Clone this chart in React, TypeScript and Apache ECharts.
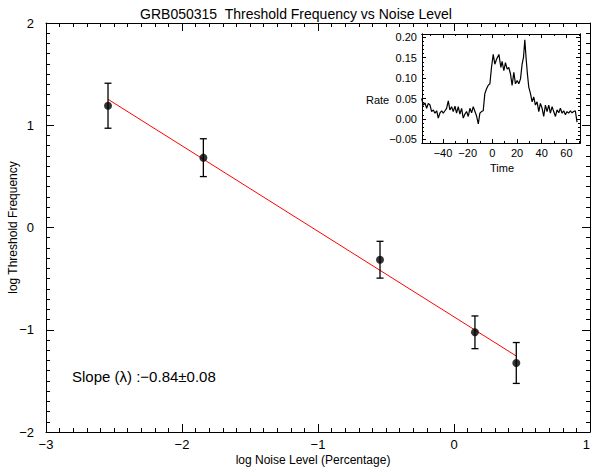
import React, { useEffect, useRef } from "react";
import * as echarts from "echarts";

// Main panel data
const noiseLevel = [-2.544, -1.843, -0.544, 0.154, 0.458];
const thresholdFreq = [1.191, 0.683, -0.315, -1.025, -1.325];
const freqErr = [0.22, 0.185, 0.18, 0.16, 0.2];
const fitX = [-2.544, 0.458];
const fitY = [1.254, -1.257];
const slopeText = "Slope (\u03bb) :\u22120.84\u00b10.08";

// Inset light curve
const lcTime = [
  -57.3, -55.9, -54.6, -53.2, -51.9, -50.5, -49.2, -47.8, -46.5, -45.1, -43.8, -42.4, -41.1, -39.8,
  -38.4, -37.1, -35.7, -34.4, -33.0, -31.7, -30.3, -29.0, -27.6, -26.3, -24.9, -23.6, -22.2, -20.9,
  -19.5, -18.2, -16.8, -15.5, -14.1, -12.8, -11.4, -10.1, -8.8, -7.4, -6.1, -4.7, -3.4, -2.0, -0.7,
  0.7, 2.0, 3.4, 5.3, 6.9, 7.9, 9.3, 10.6, 12.0, 13.3, 14.7, 16.0, 17.4, 18.7, 20.1, 21.4, 22.8,
  24.1, 25.2, 26.3, 27.3, 28.4, 29.5, 30.9, 32.2, 33.5, 34.9, 36.2, 37.6, 38.9, 40.3, 41.6, 43.0,
  44.3, 45.7, 47.0, 48.4, 49.7, 51.1, 52.4, 53.8, 55.1, 56.5, 57.8, 59.2, 60.5, 61.8, 63.2, 64.5,
  65.9, 67.2, 68.6,
];
const lcRate = [
  0.05, 0.034, 0.039, 0.026, 0.038, 0.034, 0.018, 0.022, 0.014, 0.02, 0.002, 0.015, 0.02, 0.014,
  0.02, 0.026, 0.044, 0.022, 0.03, 0.018, 0.031, 0.014, 0.03, 0.012, 0.026, 0.002, 0.012, 0.018,
  0.006, 0.026, 0.015, 0.03, 0.018, 0.007, -0.012, 0.014, 0.018, 0.02, 0.062, 0.074, 0.082, 0.086,
  0.126, 0.158, 0.134, 0.146, 0.158, 0.126, 0.141, 0.118, 0.138, 0.122, 0.126, 0.11, 0.082, 0.114,
  0.086, 0.094, 0.086, 0.098, 0.134, 0.15, 0.194, 0.15, 0.11, 0.078, 0.062, 0.042, 0.054, 0.034,
  0.042, 0.018, 0.038, 0.026, 0.006, 0.034, 0.018, 0.034, 0.014, 0.03, 0.018, 0.006, 0.022, 0.015,
  0.026, 0.014, 0.02, 0.01, 0.018, 0.014, 0.02, 0.015, 0.018, 0.02, -0.008,
];

// Inset axis ticks
const insetXRange = [-57, 71];
const insetYRange = [-0.059, 0.208];
const insetXMajor = [-40, -20, 0, 20, 40, 60];
const insetXMinor = [-50, -30, -10, 10, 30, 50, 70];
const insetYMajor = [-0.05, 0, 0.05, 0.1, 0.15, 0.2];
const insetYMinor = [
  -0.04, -0.03, -0.02, -0.01, 0.01, 0.02, 0.03, 0.04, 0.06, 0.07, 0.08, 0.09, 0.11, 0.12, 0.13,
  0.14, 0.16, 0.17, 0.18, 0.19,
];

const FONT = "Liberation Sans";
const minus = (s: string) => s.replace("-", "\u2212");

export default function App() {
  const ref = useRef<HTMLDivElement>(null);
  useEffect(() => {
    if (!ref.current) return;
    const chart = echarts.init(ref.current, undefined, { renderer: "svg" });
    const black = "#000";
    const mainAxisCommon = {
      type: "value",
      gridIndex: 0,
      interval: 1,
      axisLine: { onZero: false, lineStyle: { color: black, width: 1 } },
      axisTick: { inside: true, length: 8, lineStyle: { color: black } },
      minorTick: { show: true, splitNumber: 10, length: 4, lineStyle: { color: black } },
      splitLine: { show: false },
      minorSplitLine: { show: false },
    };
    const insetX = (pos: string, vals: number[], len: number, labels: boolean) => ({
      type: "value",
      gridIndex: 1,
      position: pos,
      min: insetXRange[0],
      max: insetXRange[1],
      axisLine: { onZero: false, lineStyle: { color: black } },
      axisTick: { inside: true, length: len, customValues: vals, lineStyle: { color: black } },
      axisLabel: labels
        ? {
            show: true,
            customValues: insetXMajor,
            color: black,
            fontSize: 11,
            fontFamily: FONT,
            margin: 4,
            formatter: (v: number) => minus(String(v)),
          }
        : { show: false },
      splitLine: { show: false },
    });
    const insetY = (pos: string, vals: number[], len: number, labels: boolean) => ({
      type: "value",
      gridIndex: 1,
      position: pos,
      min: insetYRange[0],
      max: insetYRange[1],
      axisLine: { onZero: false, lineStyle: { color: black } },
      axisTick: { inside: true, length: len, customValues: vals, lineStyle: { color: black } },
      axisLabel: labels
        ? {
            show: true,
            customValues: insetYMajor,
            color: black,
            fontSize: 11,
            fontFamily: FONT,
            margin: 5,
            formatter: (v: number) => minus(v.toFixed(2)),
          }
        : { show: false },
      splitLine: { show: false },
    });

    chart.setOption({
      animation: false,
      backgroundColor: "#fff",
      title: {
        text: "GRB050315  Threshold Frequency vs Noise Level",
        left: "center",
        top: 2,
        textStyle: { fontSize: 14, fontWeight: "normal", fontFamily: FONT, color: black },
      },
      grid: [
        { left: 46, top: 23, right: 2, bottom: 39, outerBoundsMode: "none", containLabel: false },
        {
          left: 422,
          top: 34,
          width: 158,
          height: 109,
          show: true,
          backgroundColor: "#fff",
          borderWidth: 0,
          outerBoundsMode: "none",
          containLabel: false,
        },
      ],
      xAxis: [
        {
          ...mainAxisCommon,
          position: "bottom",
          min: -3,
          max: 1,
          name: "log Noise Level (Percentage)",
          nameLocation: "middle",
          nameGap: 22,
          nameMoveOverlap: false,
          nameTextStyle: { fontSize: 12, fontFamily: FONT, color: black, padding: [0, 10, 0, 0] },
          axisLabel: {
            color: black,
            fontSize: 13,
            fontFamily: FONT,
            margin: 6,
            alignMaxLabel: "right",
            formatter: (v: number) => minus(String(v)),
          },
        },
        { ...mainAxisCommon, position: "top", min: -3, max: 1, axisLabel: { show: false } },
        insetX("bottom", insetXMajor, 4, true),
        insetX("bottom", insetXMinor, 2, false),
        insetX("top", insetXMajor, 4, false),
        insetX("top", insetXMinor, 2, false),
      ],
      yAxis: [
        {
          ...mainAxisCommon,
          position: "left",
          min: -2,
          max: 2,
          name: "log Threshold Frequency",
          nameLocation: "middle",
          nameGap: 27,
          nameMoveOverlap: false,
          nameTextStyle: { fontSize: 12, fontFamily: FONT, color: black },
          axisLabel: {
            color: black,
            fontSize: 13,
            fontFamily: FONT,
            margin: 12,
            formatter: (v: number) => minus(String(v)),
          },
        },
        { ...mainAxisCommon, position: "right", min: -2, max: 2, axisLabel: { show: false } },
        insetY("left", insetYMajor, 4, true),
        insetY("left", insetYMinor, 2, false),
        insetY("right", insetYMajor, 4, false),
        insetY("right", insetYMinor, 2, false),
      ],
      graphic: [
        {
          type: "text",
          left: 72,
          top: 369,
          style: { text: slopeText, fontSize: 15, fontFamily: FONT, fill: black },
        },
        {
          type: "text",
          left: 366,
          top: 94,
          style: { text: "Rate", fontSize: 11, fontFamily: FONT, fill: black },
        },
        {
          type: "text",
          left: 490,
          top: 162,
          style: { text: "Time", fontSize: 11, fontFamily: FONT, fill: black },
        },
      ],
      series: [
        {
          type: "line",
          xAxisIndex: 0,
          yAxisIndex: 0,
          data: fitX.map((x, i) => [x, fitY[i]]),
          showSymbol: false,
          lineStyle: { color: "#ff0000", width: 1 },
          z: 2,
        },
        {
          type: "custom",
          xAxisIndex: 0,
          yAxisIndex: 0,
          data: noiseLevel.map((x, i) => [x, thresholdFreq[i], freqErr[i]]),
          encode: { x: 0, y: 1 },
          z: 3,
          renderItem: (_p: any, api: any) => {
            const x = api.value(0);
            const y = api.value(1);
            const e = api.value(2);
            const top = api.coord([x, y + e]);
            const bot = api.coord([x, y - e]);
            const w = 3.5;
            const st = { stroke: "#000", lineWidth: 1.3 };
            return {
              type: "group",
              children: [
                { type: "line", shape: { x1: top[0], y1: top[1], x2: bot[0], y2: bot[1] }, style: st },
                { type: "line", shape: { x1: top[0] - w, y1: top[1], x2: top[0] + w, y2: top[1] }, style: st },
                { type: "line", shape: { x1: bot[0] - w, y1: bot[1], x2: bot[0] + w, y2: bot[1] }, style: st },
              ],
            };
          },
        },
        {
          type: "scatter",
          xAxisIndex: 0,
          yAxisIndex: 0,
          data: noiseLevel.map((x, i) => [x, thresholdFreq[i]]),
          symbol: "circle",
          symbolSize: 8,
          itemStyle: { color: "#000" },
          z: 4,
        },
        {
          type: "line",
          xAxisIndex: 2,
          yAxisIndex: 2,
          data: lcTime.map((t, i) => [t, lcRate[i]]),
          showSymbol: false,
          lineStyle: { color: "#000", width: 1.2 },
          z: 5,
        },
      ],
    });
    return () => chart.dispose();
  }, []);
  return (
    <div
      ref={ref}
      style={{ position: "fixed", left: 0, top: 0, width: 592, height: 471, background: "#fff" }}
    />
  );
}
